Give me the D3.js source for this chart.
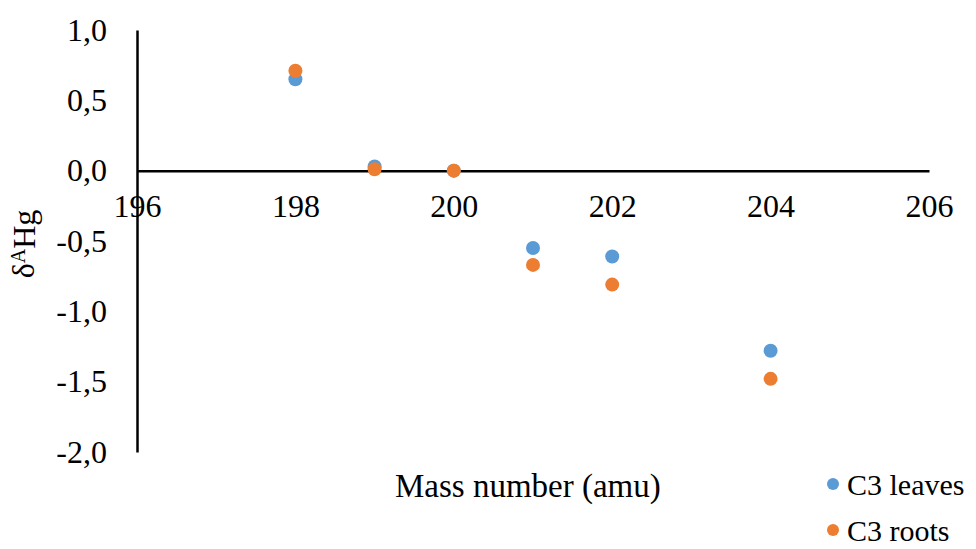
<!DOCTYPE html>
<html>
<head>
<meta charset="utf-8">
<script src="https://cdn.jsdelivr.net/npm/d3@7"></script>
<style>
  body { margin: 0; background: #fff; }
  svg text { font-family: "Liberation Serif", "DejaVu Serif", serif !important; fill: #000; }
  .domain { stroke: #000; stroke-width: 2.5; }
</style>
</head>
<body>
<svg id="chart" width="976" height="549"></svg>
<script>
// mass numbers and the two series
var massNumbers = [198, 199, 200, 201, 202, 204];
var leaves = [0.65, 0.03, 0.0, -0.55, -0.61, -1.28];
var roots = [0.71, 0.01, 0.0, -0.67, -0.81, -1.48];
var seriesNames = ["C3 leaves", "C3 roots"];
var seriesColors = ["#5B9BD5", "#ED7D31"];
var xTicks = [196, 198, 200, 202, 204, 206];
var yTicks = [1.0, 0.5, 0.0, -0.5, -1.0, -1.5, -2.0];

var serif = "'Liberation Serif', 'DejaVu Serif', serif";
var svg = d3.select("#chart");

var xScale = d3.scaleLinear()
    .domain([196, 206])
    .range([137, 929]);

var yScale = d3.scaleLinear()
    .domain([-2, 1])
    .range([452, 30]);

var fmt = function(v) { return v.toFixed(1).replace(".", ","); };

// x axis sits on the zero line
var xAxis = d3.axisBottom(xScale)
    .tickValues(xTicks)
    .tickSize(0)
    .tickPadding(24)
    .tickFormat(d3.format("d"));

svg.append("g")
    .attr("transform", "translate(0," + yScale(0) + ")")
    .call(xAxis)
    .attr("font-family", serif)
    .attr("font-size", 32);

var yAxis = d3.axisLeft(yScale)
    .tickValues(yTicks)
    .tickSize(0)
    .tickSizeOuter(0)
    .tickPadding(30)
    .tickFormat(fmt);

svg.append("g")
    .attr("transform", "translate(" + xScale(196) + ",0)")
    .call(yAxis)
    .attr("font-family", serif)
    .attr("font-size", 32);

// points
var series = [leaves, roots];
series.forEach(function(vals, s) {
    svg.append("g")
        .selectAll("circle")
        .data(vals)
        .enter()
        .append("circle")
        .attr("cx", function(d, i) { return xScale(massNumbers[i]); })
        .attr("cy", function(d) { return yScale(d); })
        .attr("r", 7)
        .attr("fill", seriesColors[s]);
});

// axis titles
var yTitle = svg.append("text")
    .attr("transform", "translate(34,244) rotate(-90)")
    .attr("text-anchor", "middle")
    .attr("font-family", serif)
    .attr("font-size", 32);
yTitle.append("tspan").text("δ");
yTitle.append("tspan").text("A").attr("dy", "-0.45em").attr("font-size", 20);
yTitle.append("tspan").text("Hg").attr("dy", "0.3em");

svg.append("text")
    .attr("x", 395)
    .attr("y", 497)
    .attr("font-family", serif)
    .attr("font-size", 33)
    .text("Mass number (amu)");

// legend
var legend = svg.append("g")
    .selectAll("g")
    .data(seriesNames)
    .enter()
    .append("g")
    .attr("transform", function(d, i) { return "translate(833," + (484 + i * 46) + ")"; });

legend.append("circle")
    .attr("r", 6)
    .attr("fill", function(d, i) { return seriesColors[i]; });

legend.append("text")
    .attr("x", 14)
    .attr("dy", "0.35em")
    .attr("font-family", serif)
    .attr("font-size", 30)
    .text(function(d) { return d; });
</script>
</body>
</html>
